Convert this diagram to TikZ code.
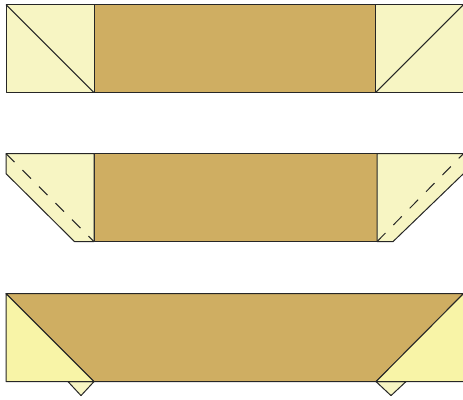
\documentclass[tikz,border=0pt]{standalone}
\definecolor{panelbrown}{HTML}{CFAE62}
\definecolor{flappale}{HTML}{F7F5C3}
\definecolor{flapyellow}{HTML}{F8F4A7}
\tikzset{
	outline/.style={draw=black!85,line width=0.75pt,line join=round},
	panel/.style={outline,fill=panelbrown},
	flap/.style={outline,fill=flappale},
	flapfold/.style={outline,fill=flapyellow},
	foldline/.style={draw=black!85,line width=0.75pt,dash pattern=on 9pt off 8.5pt}
}
\begin{document}
	\begin{tikzpicture}[x=0.75pt,y=-0.75pt]
		\useasboundingbox (0,-0.6) rectangle (463,398.4);
		% top strip
		\draw[panel] (94,4) rectangle (375.5,92);
		\draw[flap] (6,4) rectangle (94,92);
		\draw[flap] (375.5,4) rectangle (463.5,92);
		\draw[outline] (6,4) -- (94,92);
		\draw[outline] (375.5,92) -- (463.5,4);
		% middle strip
		\draw[panel] (94,153) rectangle (377,241);
		\draw[flap] (6,153) -- (94,153) -- (94,241) -- (74.5,241) -- (6,173) -- cycle;
		\draw[flap] (377,153) -- (463.5,153) -- (463.5,173) -- (393,241) -- (377,241) -- cycle;
		\draw[foldline] (6,153) -- (94,241);
		\draw[foldline] (377,241) -- (463.5,153);
		% bottom strip
		\draw[flap] (68,381) -- (94,381) -- (81,395) -- cycle;
		\draw[flap] (376,381) -- (406,381) -- (391,395) -- cycle;
		\draw[panel] (6,293) -- (463.5,293) -- (376,381) -- (94,381) -- cycle;
		\draw[flapfold] (6,293) -- (94,381) -- (6,381) -- cycle;
		\draw[flapfold] (463.5,293) -- (463.5,381) -- (376,381) -- cycle;
	\end{tikzpicture}
\end{document}
